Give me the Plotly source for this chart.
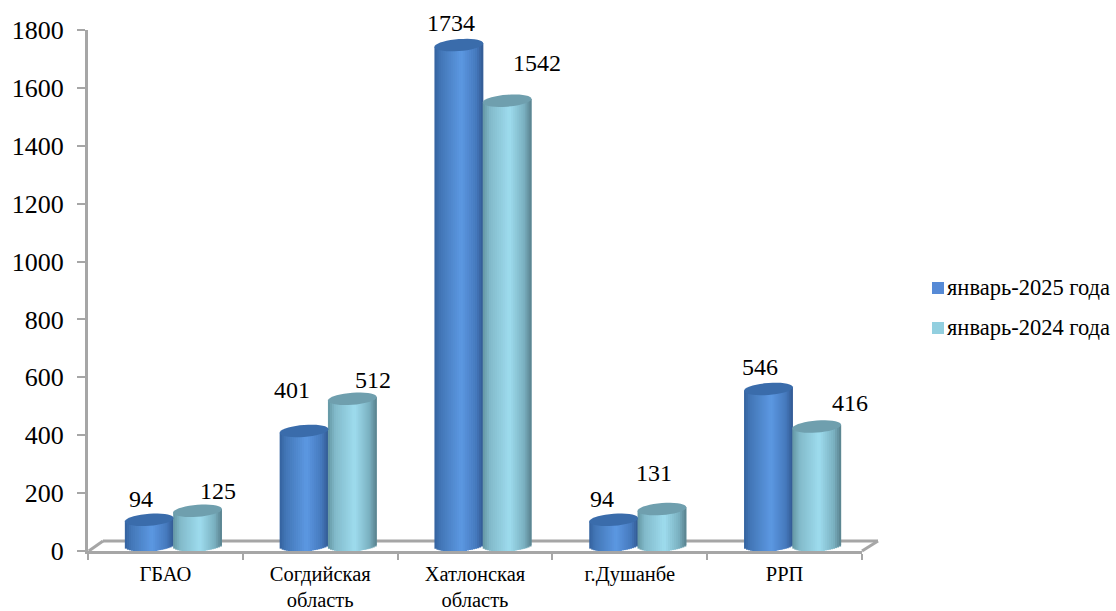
import math
import plotly.graph_objects as go

categories = ["ГБАО", "Согдийская<br>область", "Хатлонская<br>область", "г.Душанбе", "РРП"]
series_2025 = [94, 401, 1734, 94, 546]
series_2024 = [125, 512, 1542, 131, 416]
name_2025 = "январь-2025 года"
name_2024 = "январь-2024 года"
y_ticks = [0, 200, 400, 600, 800, 1000, 1200, 1400, 1600, 1800]

W, H = 1116, 611
L, R, T, B = 88, 862, 30, 551
SERIF = "Liberation Serif"
GRAY = "#a6a6a6"
ppu = (B - T) / 1800
catw = (R - L) / 5
BW = 0.315
A = BW * catw / 2
TILT, EB = 1.8, 6.0
BASE_C, TOP_C = 5.8, 4.0
NS = 24


def lerp(c1, c2, t):
    return "#%02x%02x%02x" % tuple(round(a + (b - a) * t) for a, b in zip(c1, c2))


def ramp(stops, t):
    for (t0, c0), (t1, c1) in zip(stops, stops[1:]):
        if t <= t1:
            return lerp(c0, c1, (t - t0) / (t1 - t0))
    return lerp(stops[-1][1], stops[-1][1], 0)


BLUE = [(0, (52, 98, 158)), (0.12, (66, 118, 182)), (0.55, (92, 152, 226)), (0.85, (70, 122, 190)), (1, (50, 90, 146))]
TEAL = [(0, (100, 150, 162)), (0.15, (130, 186, 202)), (0.55, (158, 220, 238)), (0.85, (122, 176, 192)), (1, (88, 128, 140))]

# label offsets in pixels from the top of each bar's category centre
specs = [
    (series_2025, name_2025, -0.262, BLUE, "#3a6cab",
     [-24.4, -28.2, -24, -27.8, -24.6], [24.8, 44.9, 26.1, 24.8, 26]),
    (series_2024, name_2024, 0.05, TEAL, "#6f9fae",
     [52.6, 52.8, 62, 24.2, 65.4], [23.8, 22.8, 41.6, 40.1, 27.6]),
]

fig = go.Figure()
shapes = [
    dict(type="line", xref="paper", yref="paper", x0=0.001, y0=0, x1=15 / (R - L), y1=10 / (B - T),
         line=dict(color=GRAY, width=3), layer="below"),
    dict(type="line", xref="paper", yref="paper", x0=15 / (R - L), y0=10 / (B - T), x1=(878 - L) / (R - L), y1=10 / (B - T),
         line=dict(color=GRAY, width=3), layer="below"),
    dict(type="line", xref="paper", yref="paper", x0=1, y0=0, x1=(878 - L) / (R - L), y1=10 / (B - T),
         line=dict(color=GRAY, width=3), layer="below"),
]
annotations = []

for values, name, off, stops, top_col, dxs, dys in specs:
    fig.add_trace(go.Bar(x=categories, y=values, name=name, width=BW / 3, offset=off + BW / 3,
                         marker=dict(color=ramp(stops, 0.5), line=dict(width=0)), showlegend=False))
    for k in range(NS):
        u = -1 + (2 * k + 1) / NS
        bottom = (BASE_C + TILT * u - EB * math.sqrt(max(0, 1 - u * u))) / ppu
        bases = [max(0, bottom)] * len(values)
        sizes = [v + (TOP_C + TILT * u) / ppu - b for v, b in zip(values, bases)]
        strip_w = BW / NS * (2 if k < NS - 1 else 1)
        fig.add_trace(go.Bar(x=categories, y=sizes, base=bases, width=strip_w, offset=off + BW * k / NS,
                             marker=dict(color=ramp(stops, (k + 0.5) / NS), line=dict(width=0)),
                             showlegend=False, hoverinfo="skip"))
    for i, v in enumerate(values):
        cx = L + catw * (i + 0.5 + off + BW / 2)
        cy = B - v * ppu - TOP_C
        pts = []
        for d in range(0, 360, 10):
            t = math.radians(d)
            pts.append((cx + A * math.cos(t), cy - TILT * math.cos(t) - EB * math.sin(t)))
        path = "M" + " L".join(f"{(px - L) / (R - L):.5f},{(B - py) / (B - T):.5f}" for px, py in pts) + " Z"
        shapes.append(dict(type="path", xref="paper", yref="paper", path=path, fillcolor=top_col, line=dict(width=0), layer="above"))
        annotations.append(dict(x=categories[i], y=v, xref="x", yref="y", text=str(v), showarrow=False,
                                xshift=dxs[i], yshift=dys[i],
                                font=dict(family=SERIF, size=24, color="#000000")))

legend_rows = [(name_2025, "#568ad6", 288), (name_2024, "#92cfdf", 328)]
for label, col, ypx in legend_rows:
    shapes.append(dict(type="rect", xref="paper", yref="paper",
                       x0=(932 - L) / (R - L), x1=(944 - L) / (R - L),
                       y0=(B - ypx - 6) / (B - T), y1=(B - ypx + 6) / (B - T),
                       fillcolor=col, line=dict(width=0)))
    annotations.append(dict(xref="paper", yref="paper", x=(947 - L) / (R - L), y=(B - ypx) / (B - T),
                            text=label, showarrow=False, xanchor="left", yanchor="middle", xshift=-2, yshift=1,
                            font=dict(family=SERIF, size=22.5, color="#000000")))

fig.update_layout(
    width=W, height=H, autosize=False, barmode="overlay", showlegend=False,
    margin=dict(l=L, r=W - R, t=T, b=H - B, pad=0),
    paper_bgcolor="#ffffff", plot_bgcolor="#ffffff",
    shapes=shapes, annotations=annotations,
    xaxis=dict(type="category", categoryorder="array", categoryarray=categories, range=[-0.5, 4.5],
               tickson="boundaries", automargin=False,
               ticks="outside", ticklen=6, tickwidth=2, tickcolor=GRAY, showline=True, linecolor=GRAY, linewidth=3,
               showgrid=False, zeroline=False, layer="below traces", ticklabelstandoff=2,
               tickfont=dict(family=SERIF, size=20.5, color="#000000")),
    yaxis=dict(range=[0, 1800], tickvals=y_ticks, ticks="outside", ticklen=8, tickwidth=2, tickcolor=GRAY, automargin=False,
               showline=True, linecolor=GRAY, linewidth=3, showgrid=False, zeroline=False, layer="below traces",
               ticklabelstandoff=8, tickfont=dict(family=SERIF, size=26, color="#000000")),
)
fig.write_html("out.html", post_script="document.body.style.margin='0';", config=dict(displayModeBar=False))
